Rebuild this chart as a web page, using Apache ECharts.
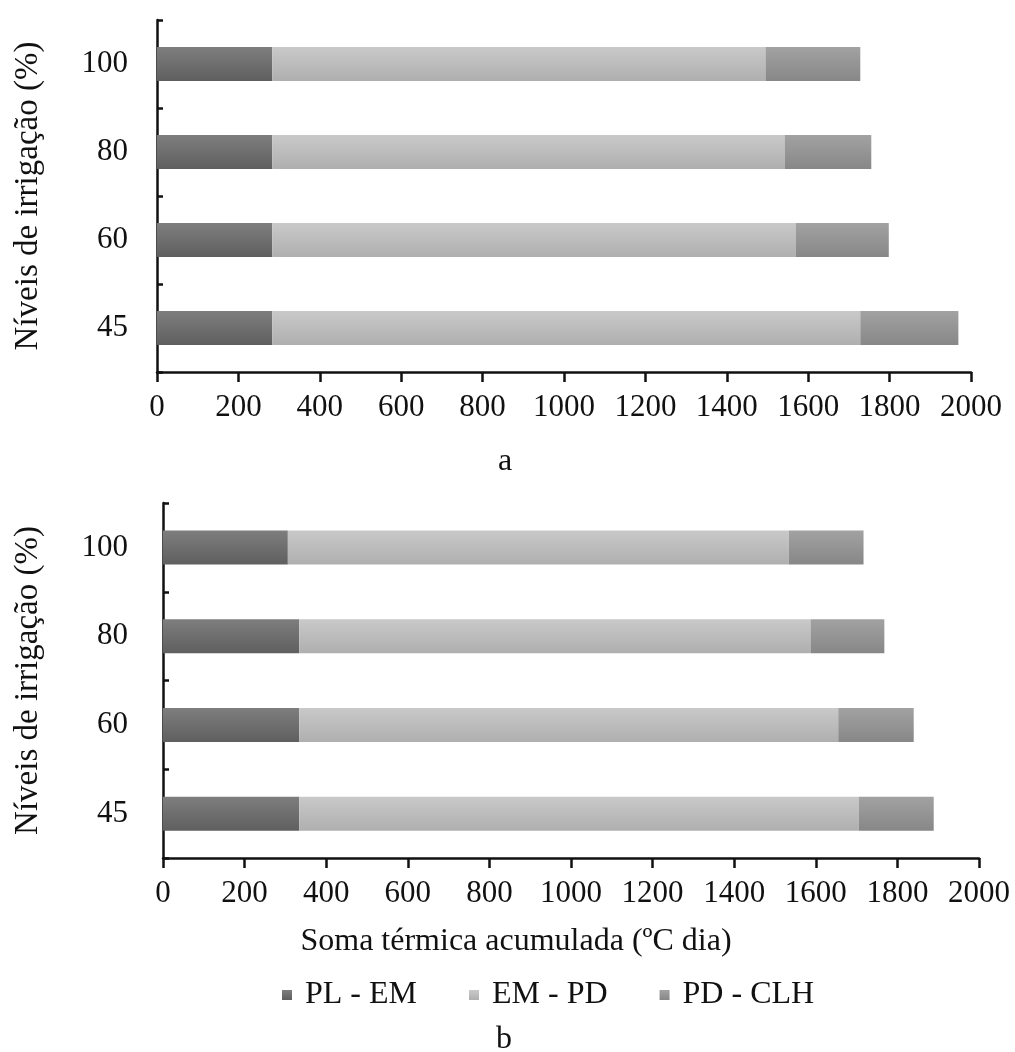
<!DOCTYPE html>
<html>
<head>
<meta charset="utf-8">
<script src="https://cdn.jsdelivr.net/npm/echarts@6/dist/echarts.min.js"></script>
<style>
  html, body { margin: 0; padding: 0; background: #fff; }
  #chart { width: 1015px; height: 1052px; }
</style>
</head>
<body>
<div id="chart"></div>
<script>
  // irrigation levels, bottom to top
  const levels = ['45', '60', '80', '100']
  const seriesNames = ['PL - EM', 'EM - PD', 'PD - CLH']

  // panel a
  const plEmA = [283, 283, 283, 283]
  const emPdA = [1445, 1286, 1259, 1212]
  const pdClhA = [241, 229, 213, 233]

  // panel b
  const plEmB = [334, 334, 334, 306]
  const emPdB = [1371, 1321, 1253, 1228]
  const pdClhB = [184, 185, 181, 183]

  const xMin = 0
  const xMax = 2000
  const xStep = 200

  const font = "'Liberation Serif', 'Times New Roman', serif"
  const ink = '#111'

  function grad(top, bottom) {
    return {
      type: 'linear', x: 0, y: 0, x2: 0, y2: 1,
      colorStops: [{ offset: 0, color: top }, { offset: 1, color: bottom }]
    }
  }
  const fills = [
    grad('#7e7e7e', '#5f5f5f'),
    grad('#c9c9c9', '#afafaf'),
    grad('#a2a2a2', '#878787')
  ]

  function xAxisFor(i) {
    return {
      type: 'value',
      gridIndex: i,
      min: xMin,
      max: xMax,
      interval: xStep,
      axisLine: { show: true, lineStyle: { color: ink, width: 2.5 } },
      axisTick: { show: true, inside: false, length: 10, lineStyle: { color: ink, width: 2.5 } },
      splitLine: { show: false },
      axisLabel: {
        color: ink, fontFamily: font, fontSize: 31, margin: 20,
        formatter: (v) => String(v)
      }
    }
  }

  function yAxisFor(i, gap, margin) {
    return {
      type: 'category',
      gridIndex: i,
      data: levels,
      axisLine: { show: true, lineStyle: { color: ink, width: 2.5 } },
      axisTick: { show: true, inside: true, length: 6, lineStyle: { color: ink, width: 2.5 } },
      axisLabel: { color: ink, fontFamily: font, fontSize: 31, margin: margin },
      name: 'Níveis de irrigação (%)',
      nameLocation: 'middle',
      nameGap: gap,
      nameTextStyle: { color: ink, fontFamily: font, fontSize: 33 }
    }
  }

  function barSeries(name, data, idx, stack) {
    return {
      name: name,
      type: 'bar',
      stack: stack,
      xAxisIndex: idx,
      yAxisIndex: idx,
      barWidth: 34,
      data: data,
      itemStyle: { color: fills[seriesNames.indexOf(name)] }
    }
  }

  const chart = echarts.init(document.getElementById('chart'))

  const option = {
    backgroundColor: '#fff',
    animation: false,
    grid: [
      { left: 157, top: 20, width: 814, height: 352 },
      { left: 163, top: 503, width: 816, height: 355 }
    ],
    xAxis: [xAxisFor(0), xAxisFor(1)],
    yAxis: [yAxisFor(0, 112, 29), yAxisFor(1, 118, 35)],
    legend: {
      data: seriesNames,
      left: 277,
      top: 974,
      itemWidth: 10,
      itemHeight: 10,
      itemGap: 52,
      icon: 'rect',
      textStyle: { color: ink, fontFamily: font, fontSize: 32, padding: [0, 0, 0, 8] }
    },
    graphic: [
      {
        type: 'text', x: 505, y: 462,
        style: {
          text: 'a', font: '32px ' + font, fill: ink,
          textAlign: 'center', textVerticalAlign: 'middle'
        }
      },
      {
        type: 'text', x: 516, y: 942,
        style: {
          text: 'Soma térmica acumulada (ºC dia)', font: '32px ' + font, fill: ink,
          textAlign: 'center', textVerticalAlign: 'middle'
        }
      },
      {
        type: 'text', x: 504, y: 1040,
        style: {
          text: 'b', font: '32px ' + font, fill: ink,
          textAlign: 'center', textVerticalAlign: 'middle'
        }
      }
    ],
    series: [
      barSeries('PL - EM', plEmA, 0, 'a'),
      barSeries('EM - PD', emPdA, 0, 'a'),
      barSeries('PD - CLH', pdClhA, 0, 'a'),
      barSeries('PL - EM', plEmB, 1, 'b'),
      barSeries('EM - PD', emPdB, 1, 'b'),
      barSeries('PD - CLH', pdClhB, 1, 'b')
    ]
  }

  chart.setOption(option)
</script>
</body>
</html>
